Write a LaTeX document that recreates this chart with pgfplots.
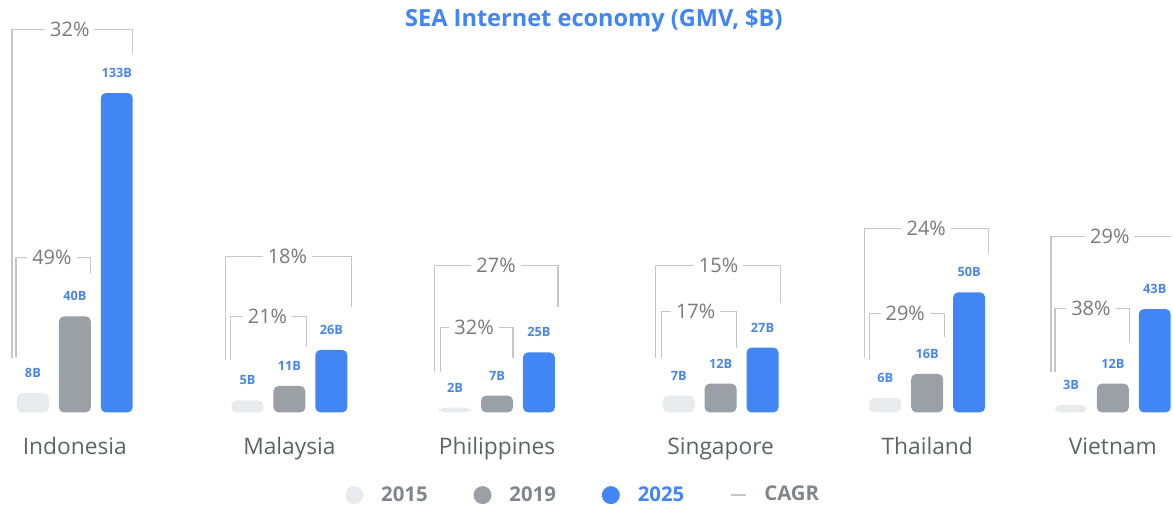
\documentclass[border=0pt]{standalone}
\usepackage{pgfplots}
\usepackage{pgfplotstable}
\pgfplotsset{compat=1.18}
\usepackage{fontspec}
\setmainfont{Open Sans}

\definecolor{c15}{HTML}{E8EAED}
\definecolor{c19}{HTML}{9AA0A6}
\definecolor{c25}{HTML}{4285F4}
\definecolor{vlab}{HTML}{4A86E8}
\definecolor{brk}{HTML}{C6C6C6}
\definecolor{pct}{HTML}{7A7A7A}
\definecolor{cat}{HTML}{5F6368}
\definecolor{leg}{HTML}{80868B}

% pixel row of the reference -> value units (baseline at row 413, 2.406 px per $B)
\newcommand{\py}[1]{(413-#1)/2.406}
% CAGR bracket: x left, x right, y top, y bottom left, y bottom right, x of label, label
\newcommand{\cagr}[7]{%
  \draw[brk, line width=0.6pt] (axis cs:#1,{\py{#4}}) -- (axis cs:#1,{\py{#3}})
     -- (axis cs:#2,{\py{#3}}) -- (axis cs:#2,{\py{#5}});
  \node[fill=white, inner xsep=2.5pt, inner ysep=1pt, text=pct,
        font=\fontsize{10}{12}\selectfont] at (axis cs:#6,{\py{#3}}) {#7};
}

\pgfplotsset{dot legend/.style={legend image code/.code={%
  \fill[#1] (4.5pt,0pt) circle (4.5pt); \path (0pt,0pt) (16pt,0pt);}}}

% group centre (px) and GMV in $B
\pgfplotstableread{
x    y15 y19 y25
75   8   40  133
290  5   11  26
498  2   7   25
722  7   12  27
929  6   16  50
1115 3   12  43
}\gmv

\begin{document}
\begin{tikzpicture}
\begin{axis}[
    scale only axis,
    width=586.5pt, height=253pt,
    xmin=0, xmax=1173,
    ymin=-38.65, ymax=171.65,
    ybar,
    bar width=16pt,
    axis line style={draw=none},
    major tick length=0pt,
    ytick=\empty,
    xtick={75,290,498,722,929,1115},
    xticklabels={Indonesia,Malaysia,Philippines,Singapore,Thailand,Vietnam},
    xticklabel style={anchor=base, yshift=25.5pt, text=cat,
        font=\fontsize{11.4}{13}\selectfont},
    /pgf/number format/assume math mode=true,
    nodes near coords={\pgfmathprintnumber{\pgfplotspointmeta}B},
    every node near coord/.append style={anchor=center, yshift=10pt,
        text=vlab, font=\bfseries\fontsize{6.4}{7}\selectfont},
    legend columns=4,
    legend cell align=left,
    legend style={at={(0.499,0.02)}, anchor=center, draw=none, fill=none,
        font=\bfseries\fontsize{10.2}{12}\selectfont, text=leg,
        /tikz/every even column/.append style={column sep=21pt}},
]
\cagr{12}{133}{29.5}{358}{53}{70}{32\%}
\cagr{16}{91}{258}{357}{273}{52}{49\%}
\cagr{226}{352}{257}{360}{307}{288}{18\%}
\cagr{231}{307}{317}{360}{347}{268}{21\%}
\cagr{435}{559}{266}{373}{307}{497}{27\%}
\cagr{441}{514}{328}{373}{358}{475}{32\%}
\cagr{657}{782}{266}{358}{303}{720}{15\%}
\cagr{663}{738}{312}{358}{348}{697}{17\%}
\cagr{866}{990}{229}{358}{253}{928}{24\%}
\cagr{871}{946}{314}{360}{337}{907}{29\%}
\cagr{1057}{1132}{309}{373}{343}{1093}{38\%}
\draw[brk, line width=0.6pt] (axis cs:1053,{\py{373}}) -- (axis cs:1053,{\py{237}})
   -- (axis cs:1173,{\py{237}});
\node[fill=white, inner xsep=2.5pt, inner ysep=1pt, text=pct,
      font=\fontsize{10}{12}\selectfont] at (axis cs:1112,{\py{237}}) {29\%};

\node[text=c25, font=\bfseries\fontsize{11.8}{14}\selectfont]
   at (axis cs:595,{\py{20}}) {SEA Internet economy (GMV, \$B)};

\addplot[fill=c15, draw=none, bar shift=-21pt, rounded corners=2.5pt, dot legend=c15]
   table[x=x, y=y15] {\gmv};
\addlegendentry{2015}
\addplot[fill=c19, draw=none, bar shift=0pt, rounded corners=2.5pt, dot legend=c19]
   table[x=x, y=y19] {\gmv};
\addlegendentry{2019}
\addplot[fill=c25, draw=none, bar shift=21pt, rounded corners=2.5pt, dot legend=c25]
   table[x=x, y=y25] {\gmv};
\addlegendentry{\textcolor{c25}{2025}}
\addlegendimage{legend image code/.code={%
   \draw[brk, line width=0.8pt] (0pt,0pt) -- (7.5pt,0pt); \path (0pt,0pt) (14.5pt,0pt);}}
\addlegendentry{CAGR}
\end{axis}
\end{tikzpicture}
\end{document}
